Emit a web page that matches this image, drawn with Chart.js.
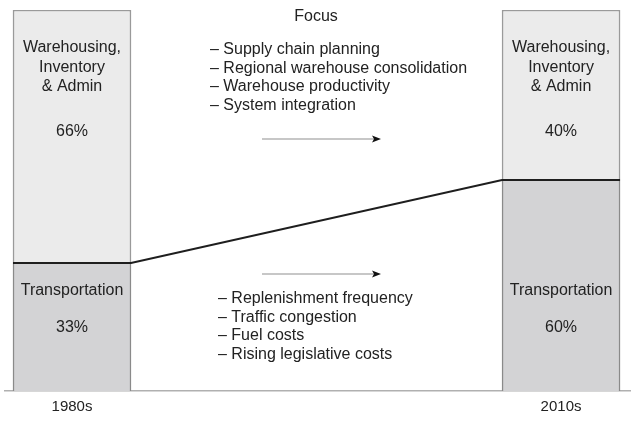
<!DOCTYPE html>
<html>
<head>
<meta charset="utf-8">
<script src="https://cdn.jsdelivr.net/npm/chart.js@4.4.0/dist/chart.umd.min.js"></script>
<style>
  body { margin: 0; background: #fff; }
  canvas { display: block; }
</style>
</head>
<body>
<canvas id="costChart" width="633" height="422"></canvas>
<script>
const periods = ['1980s', '2010s'];
const transportShare = [33.6, 55.4];
const warehouseShare = [66.4, 44.6];
const transportLabels = ['33%', '60%'];
const warehouseLabels = ['66%', '40%'];
const warehouseName = ['Warehousing,', 'Inventory', '& Admin'];
const transportName = 'Transportation';
const focusTitle = 'Focus';
const warehouseFocus = [
    '\u2013 Supply chain planning',
    '\u2013 Regional warehouse consolidation',
    '\u2013 Warehouse productivity',
    '\u2013 System integration'
];
const transportFocus = [
    '\u2013 Replenishment frequency',
    '\u2013 Traffic congestion',
    '\u2013 Fuel costs',
    '\u2013 Rising legislative costs'
];

const FONT = '"Liberation Sans", Arial, sans-serif';
const TEXT = '#222';

// bar boundary, connector line and all the annotation text
const annotations = {
    id: 'annotations',
    afterDatasetsDraw(chart) {
        const ctx = chart.ctx;
        const area = chart.chartArea;
        const bars = chart.getDatasetMeta(0).data;

        ctx.save();

        // dark boundary between the two segments + connector
        ctx.strokeStyle = '#1e1e1e';
        ctx.lineWidth = 2;
        ctx.beginPath();
        bars.forEach((bar, i) => {
            const l = bar.x - bar.width / 2;
            const r = bar.x + bar.width / 2;
            if (i === 0) ctx.moveTo(l, bar.y); else ctx.lineTo(l, bar.y);
            ctx.lineTo(r, bar.y);
        });
        ctx.stroke();

        // labels inside the bars
        ctx.fillStyle = TEXT;
        ctx.textAlign = 'center';
        ctx.textBaseline = 'middle';
        ctx.font = '16px ' + FONT;
        bars.forEach((bar, i) => {
            warehouseName.forEach((line, j) => {
                ctx.fillText(line, bar.x, area.top + 38 + j * 19.5);
            });
            ctx.fillText(warehouseLabels[i], bar.x, area.top + 122);
            ctx.fillText(transportName, bar.x, area.bottom - 100);
            ctx.fillText(transportLabels[i], bar.x, area.bottom - 63);
        });

        // middle column
        ctx.fillText(focusTitle, 316, 17);
        ctx.textAlign = 'left';
        warehouseFocus.forEach((line, j) => ctx.fillText(line, 210, 50 + j * 18.5));
        transportFocus.forEach((line, j) => ctx.fillText(line, 218, 299 + j * 18.5));

        // arrows
        [139, 274].forEach(y => {
            ctx.strokeStyle = '#b5b5b5';
            ctx.lineWidth = 1.5;
            ctx.beginPath();
            ctx.moveTo(262, y);
            ctx.lineTo(374, y);
            ctx.stroke();
            ctx.fillStyle = '#111';
            ctx.beginPath();
            ctx.moveTo(381, y);
            ctx.lineTo(372, y - 3.5);
            ctx.lineTo(374, y);
            ctx.lineTo(372, y + 3.5);
            ctx.closePath();
            ctx.fill();
        });

        ctx.restore();
    }
};

const ctx = document.getElementById('costChart').getContext('2d');
new Chart(ctx, {
    type: 'bar',
    data: {
        datasets: [{
            label: 'Transportation',
            data: transportShare.map((v, i) => ({ x: i, y: v })),
            backgroundColor: '#d3d3d5',
            borderColor: '#8a8a8a',
            borderWidth: { left: 1.5, right: 1.5, top: 0, bottom: 0 },
            borderSkipped: false,
            barThickness: 118
        }, {
            label: 'Warehousing, Inventory & Admin',
            data: warehouseShare.map((v, i) => ({ x: i, y: v })),
            backgroundColor: '#ebebeb',
            borderColor: '#9a9a9a',
            borderWidth: { left: 1.5, right: 1.5, top: 1.5, bottom: 0 },
            borderSkipped: false,
            barThickness: 118
        }]
    },
    options: {
        responsive: false,
        animation: false,
        devicePixelRatio: 1,
        layout: { padding: { left: 5, right: 3, top: 10, bottom: 6 } },
        plugins: {
            legend: { display: false },
            tooltip: { enabled: false }
        },
        scales: {
            x: {
                type: 'linear',
                stacked: true,
                offset: false,
                min: -0.137,
                max: 1.141,
                afterBuildTicks: axis => {
                    axis.ticks = periods.map((p, i) => ({ value: i }));
                },
                afterFit: axis => { axis.height = 25; },
                ticks: {
                    callback: v => periods[v],
                    color: TEXT,
                    font: { family: FONT, size: 15 },
                    padding: 7,
                    maxRotation: 0
                },
                grid: { display: false, drawTicks: false },
                border: { display: true, color: '#b0b0b0', width: 1.5 }
            },
            y: {
                stacked: true,
                display: false,
                min: 0,
                max: 100
            }
        }
    },
    plugins: [annotations]
});
</script>
</body>
</html>
